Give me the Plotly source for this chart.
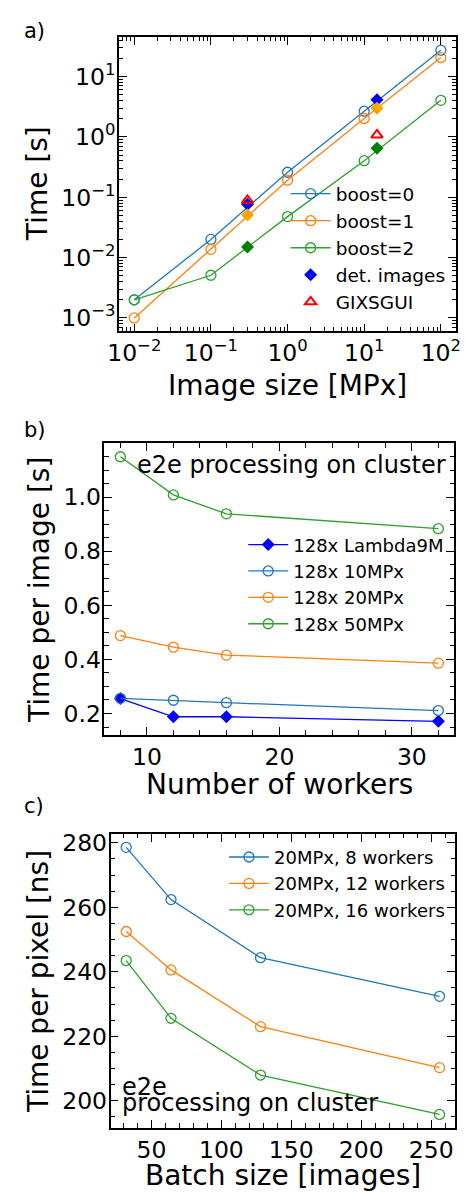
import plotly.graph_objects as go

W, H = 466, 1192
FONT = "DejaVu Sans"

# ---------------- Panel a data ----------------
size_mpx = [0.01, 0.1, 1, 10, 100]
boost0 = [0.002, 0.020, 0.26, 2.67, 27.4]
boost1 = [0.001, 0.0137, 0.192, 2.02, 20.7]
boost2 = [0.002, 0.0051, 0.0478, 0.404, 4.04]
det_size = [0.3, 14.7]
det_boost0 = [0.077, 4.15]
det_boost1 = [0.051, 3.0]
det_boost2 = [0.015, 0.65]
gixsgui_time = [0.089, 1.08]
a_xtickvals = [0.01, 0.1, 1, 10, 100]
a_xticktext = ["10<sup>−2</sup>", "10<sup>−1</sup>", "10<sup>0</sup>", "10<sup>1</sup>", "10<sup>2</sup>"]
a_ytickvals = [0.001, 0.01, 0.1, 1, 10]
a_yticktext = ["10<sup>−3</sup>", "10<sup>−2</sup>", "10<sup>−1</sup>", "10<sup>0</sup>", "10<sup>1</sup>"]

# ---------------- Panel b data ----------------
workers = [8, 12, 16, 32]
lambda9m = [0.255, 0.188, 0.188, 0.171]
mpx10 = [0.256, 0.249, 0.240, 0.211]
mpx20 = [0.488, 0.445, 0.416, 0.386]
mpx50 = [1.149, 1.008, 0.938, 0.883]
b_xtickvals = [10, 20, 30]
b_ytickvals = [0.2, 0.4, 0.6, 0.8, 1.0]
b_yticktext = ["0.2", "0.4", "0.6", "0.8", "1.0"]

# ---------------- Panel c data ----------------
batch = [32, 64, 128, 256]
w8 = [278.6, 262.4, 244.4, 232.4]
w12 = [252.5, 240.6, 223.0, 210.3]
w16 = [243.5, 225.6, 208.0, 195.8]
c_xtickvals = [50, 100, 150, 200, 250]
c_ytickvals = [200, 220, 240, 260, 280]

BLUE, ORANGE, GREEN = "#1f77b4", "#ff7f0e", "#2ca02c"


def px_x(p):
    return p / W


def px_y(p):
    return 1 - p / H


fig = go.Figure()

circ = dict(symbol="circle-open", size=10, line=dict(width=1.3))
LW = 1.3

# panel a traces
for name, ys, col in [("boost=0", boost0, BLUE), ("boost=1", boost1, ORANGE), ("boost=2", boost2, GREEN)]:
    fig.add_trace(go.Scatter(x=size_mpx, y=ys, mode="lines+markers", name=name,
                             line=dict(color=col, width=LW),
                             marker=dict(color=col, **circ),
                             xaxis="x", yaxis="y", legend="legend"))
fig.add_trace(go.Scatter(x=det_size, y=det_boost0, mode="markers", name="det. images",
                         marker=dict(symbol="diamond", size=10, color="#0000ff"),
                         xaxis="x", yaxis="y", legend="legend"))
fig.add_trace(go.Scatter(x=det_size, y=det_boost1, mode="markers", showlegend=False,
                         marker=dict(symbol="diamond", size=10, color="#ffa500"),
                         xaxis="x", yaxis="y"))
fig.add_trace(go.Scatter(x=det_size, y=det_boost2, mode="markers", showlegend=False,
                         marker=dict(symbol="diamond", size=10, color="#008000"),
                         xaxis="x", yaxis="y"))
fig.add_trace(go.Scatter(x=det_size, y=gixsgui_time, mode="markers", name="GIXSGUI",
                         marker=dict(symbol="triangle-up-open", size=10, color="#ff0000",
                                     line=dict(width=2)),
                         xaxis="x", yaxis="y", legend="legend"))

# panel b traces
fig.add_trace(go.Scatter(x=workers, y=lambda9m, mode="lines+markers", name="128x Lambda9M",
                         line=dict(color="#0000ff", width=LW),
                         marker=dict(symbol="diamond", size=10, color="#0000ff"),
                         xaxis="x2", yaxis="y2", legend="legend2"))
for name, ys, col in [("128x 10MPx", mpx10, BLUE), ("128x 20MPx", mpx20, ORANGE), ("128x 50MPx", mpx50, GREEN)]:
    fig.add_trace(go.Scatter(x=workers, y=ys, mode="lines+markers", name=name,
                             line=dict(color=col, width=LW),
                             marker=dict(color=col, **circ),
                             xaxis="x2", yaxis="y2", legend="legend2"))

# panel c traces
for name, ys, col in [("20MPx, 8 workers", w8, BLUE), ("20MPx, 12 workers", w12, ORANGE),
                      ("20MPx, 16 workers", w16, GREEN)]:
    fig.add_trace(go.Scatter(x=batch, y=ys, mode="lines+markers", name=name,
                             line=dict(color=col, width=LW),
                             marker=dict(color=col, **circ),
                             xaxis="x3", yaxis="y3", legend="legend3"))

TICKFONT = dict(family=FONT, size=23.5, color="black")


def ax(domain, rng, tickvals, ticktext=None, typ="linear", minor_dtick=None, anchor=None, standoff=0):
    d = dict(domain=domain, range=rng, type=typ, tickvals=tickvals,
             showline=True, linecolor="black", linewidth=1.6, mirror="ticks",
             ticks="inside", ticklen=8, tickwidth=1.3, tickcolor="black",
             showgrid=False, zeroline=False, tickfont=TICKFONT, anchor=anchor,
             ticklabelstandoff=standoff,
             minor=dict(ticks="inside", ticklen=4.5, tickwidth=1.1, tickcolor="black",
                        dtick=minor_dtick, showgrid=False))
    if ticktext is not None:
        d["ticktext"] = ticktext
    return d


layout = dict(
    width=W, height=H, margin=dict(l=0, r=0, t=0, b=0),
    paper_bgcolor="white", plot_bgcolor="white",
    font=dict(family=FONT, color="black"),
    xaxis=ax([px_x(111), px_x(461)], [-2.2, 2.2], a_xtickvals, a_xticktext, "log", "D1", "y"),
    yaxis=ax([px_y(328), px_y(32)], [-3.222, 1.659], a_ytickvals, a_yticktext, "log", "D1", "x", -3),
    xaxis2=ax([px_x(96), px_x(459)], [6.8, 33.2], b_xtickvals, None, "linear", 2, "y2"),
    yaxis2=ax([px_y(733.3), px_y(440.7)], [0.122, 1.198], b_ytickvals, b_yticktext, "linear", 0.05, "x2", -3),
    xaxis3=ax([px_x(102.3), px_x(460)], [20.8, 267.2], c_xtickvals, None, "linear", 10, "y3"),
    yaxis3=ax([px_y(1128.3), px_y(833.3)], [191.7, 282.7], c_ytickvals, None, "linear", 5, "x3", -3),
    showlegend=True,
)
LEGFONT = dict(family=FONT, size=18.5, color="black")
layout["legend"] = dict(x=px_x(284), y=px_y(171), xanchor="left", yanchor="top", itemwidth=40,
                        bgcolor="rgba(0,0,0,0)", font=LEGFONT, tracegroupgap=0)
layout["legend2"] = dict(x=px_x(240), y=px_y(524), xanchor="left", yanchor="top", itemwidth=40,
                         bgcolor="rgba(0,0,0,0)", font=dict(LEGFONT, size=18), tracegroupgap=0)
layout["legend3"] = dict(x=px_x(220), y=px_y(838), xanchor="left", yanchor="top", itemwidth=40,
                         bgcolor="rgba(0,0,0,0)", font=dict(LEGFONT, size=18), tracegroupgap=0)

fig.update_layout(**layout)

TITLE = dict(family=FONT, size=28, color="black")
ann = [
    # axis titles
    dict(text="Image size [MPx]", x=px_x(286), y=px_y(382)),
    dict(text="Time [s]", x=px_x(26), y=px_y(180), textangle=-90),
    dict(text="Number of workers", x=px_x(277.5), y=px_y(783)),
    dict(text="Time per image [s]", x=px_x(28), y=px_y(588), textangle=-90),
    dict(text="Batch size [images]", x=px_x(281), y=px_y(1176)),
    dict(text="Time per pixel [ns]", x=px_x(27), y=px_y(982), textangle=-90),
]
for a in ann:
    a.update(xref="paper", yref="paper", showarrow=False, font=TITLE,
             xanchor="center", yanchor="middle")
panel = [("a)", 26), ("b)", 427), ("c)", 805)]
for t, yy in panel:
    ann.append(dict(text=t, x=px_x(10), y=px_y(yy), xref="paper", yref="paper", showarrow=False,
                    xanchor="left", yanchor="middle", font=dict(family=FONT, size=21, color="black")))
NOTE = dict(family=FONT, size=24, color="black")
ann.append(dict(text="e2e processing on cluster", x=px_x(452), y=px_y(462), xref="paper", yref="paper",
                showarrow=False, xanchor="right", yanchor="middle", font=NOTE))
ann.append(dict(text="e2e", x=px_x(112), y=px_y(1087), xref="paper", yref="paper",
                showarrow=False, xanchor="left", yanchor="middle", font=NOTE))
ann.append(dict(text="processing on cluster", x=px_x(112), y=px_y(1104), xref="paper", yref="paper",
                showarrow=False, xanchor="left", yanchor="middle", font=NOTE))
fig.update_layout(annotations=ann)

fig.write_html("out.html", config={"displayModeBar": False},
               post_script="document.body.style.margin='0px';")
